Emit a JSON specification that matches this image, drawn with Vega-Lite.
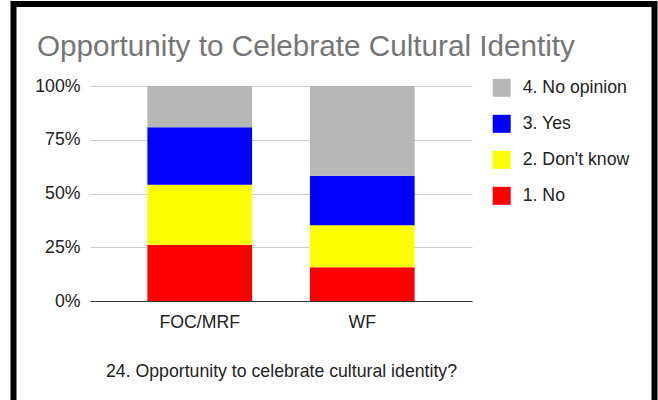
{
  "$schema": "https://vega.github.io/schema/vega-lite/v6.json",
  "width": 641,
  "height": 396,
  "autosize": {"type": "none"},
  "padding": {"left": 13.5, "top": 4, "right": 3.5, "bottom": 0},
  "background": "#ffffff",
  "title": {
    "text": "Opportunity to Celebrate Cultural Identity",
    "anchor": "start",
    "frame": "group",
    "dx": 23.5,
    "dy": 63,
    "font": "Liberation Sans",
    "fontSize": 29.7,
    "fontWeight": "normal",
    "color": "#757575"
  },
  "config": {
    "font": "Liberation Sans",
    "view": {
      "stroke": "#000000",
      "strokeWidth": 6,
      "strokeDash": [1037, 641, 420],
      "strokeCap": "square",
      "fill": "#ffffff"
    }
  },
  "data": {
    "values": [
      {"group": "FOC/MRF", "answer": "1. No", "rank": 1, "pct": 26.2},
      {"group": "FOC/MRF", "answer": "2. Don't know", "rank": 2, "pct": 27.9},
      {"group": "FOC/MRF", "answer": "3. Yes", "rank": 3, "pct": 26.7},
      {"group": "FOC/MRF", "answer": "4. No opinion", "rank": 4, "pct": 19.2},
      {"group": "WF", "answer": "1. No", "rank": 1, "pct": 15.7},
      {"group": "WF", "answer": "2. Don't know", "rank": 2, "pct": 19.5},
      {"group": "WF", "answer": "3. Yes", "rank": 3, "pct": 23.1},
      {"group": "WF", "answer": "4. No opinion", "rank": 4, "pct": 41.7}
    ]
  },
  "mark": {"type": "bar"},
  "encoding": {
    "x": {
      "field": "group",
      "type": "nominal",
      "sort": ["FOC/MRF", "WF"],
      "scale": {"range": [76.5, 458.5], "paddingInner": 0.356, "paddingOuter": 0.353},
      "axis": {
        "title": "24. Opportunity to celebrate cultural identity?",
        "titleFont": "Liberation Sans",
        "titleFontSize": 17.7,
        "titleFontWeight": "normal",
        "titleColor": "#222222",
        "titlePadding": 31,
        "labelAngle": 0,
        "labelFont": "Liberation Sans",
        "labelFontSize": 17.7,
        "labelColor": "#222222",
        "labelPadding": 12.7,
        "ticks": false,
        "domainColor": "#333333",
        "domainWidth": 1,
        "offset": -99
      }
    },
    "y": {
      "field": "pct",
      "type": "quantitative",
      "stack": "normalize",
      "scale": {"range": [297, 82], "domain": [0, 1], "nice": false},
      "axis": {
        "title": null,
        "values": [0, 0.25, 0.5, 0.75, 1],
        "format": ".0%",
        "labelFont": "Liberation Sans",
        "labelFontSize": 17.7,
        "labelColor": "#222222",
        "labelPadding": 10,
        "ticks": false,
        "domain": false,
        "gridColor": "#cccccc",
        "gridWidth": 1,
        "offset": -76.5
      }
    },
    "color": {
      "field": "answer",
      "type": "nominal",
      "scale": {
        "domain": ["4. No opinion", "3. Yes", "2. Don't know", "1. No"],
        "range": ["#b7b7b7", "#0000ff", "#ffff00", "#ff0000"]
      },
      "legend": {
        "title": null,
        "orient": "none",
        "legendX": 479.2,
        "legendY": 74.8,
        "padding": 0,
        "symbolType": "square",
        "symbolSize": 324,
        "symbolStrokeWidth": 0,
        "symbolOpacity": 1,
        "labelFont": "Liberation Sans",
        "labelFontSize": 17.7,
        "labelColor": "#222222",
        "labelOffset": 12,
        "rowPadding": 18
      }
    },
    "order": {"field": "rank", "type": "quantitative", "sort": "ascending"}
  }
}
